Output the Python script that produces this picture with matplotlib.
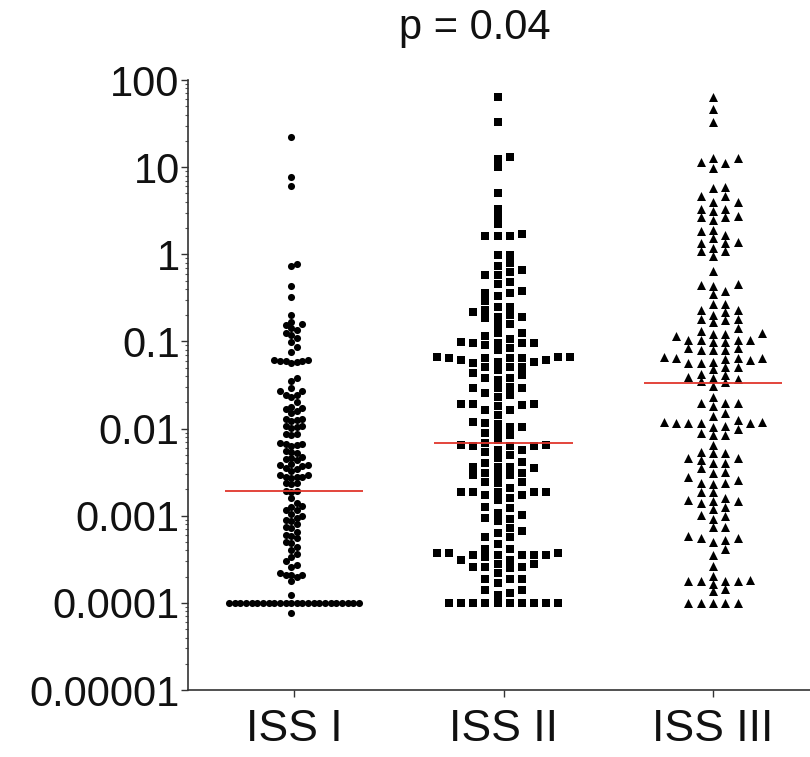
import numpy as np
import matplotlib
matplotlib.use("Agg")
import matplotlib.pyplot as plt
from matplotlib.ticker import LogLocator, FixedLocator, NullFormatter

categories = ["ISS I", "ISS II", "ISS III"]
title_text = "p = 0.04"
ytick_values = [1e-5, 1e-4, 1e-3, 1e-2, 1e-1, 1, 10, 100]
ytick_labels = ["0.00001", "0.0001", "0.001", "0.01", "0.1", "1", "10", "100"]
medians = [0.0019, 0.0068, 0.033]

iss1 = [22, 7.7, 6.1, 0.77, 0.74, 0.43, 0.325, 0.20, 0.169, 0.159, 0.155, 0.142,
        0.137, 0.124, 0.120, 0.109, 0.0998, 0.0874, 0.0766,
        0.062, 0.061, 0.060, 0.060, 0.059, 0.058, 0.057,
        0.0379, 0.0347, 0.029, 0.0268, 0.0268, 0.0244,
        0.0240, 0.0232, 0.0204, 0.0178, 0.0172, 0.0166, 0.0158, 0.0152,
        0.0130, 0.0126, 0.0123, 0.0128, 0.0107, 0.0104, 0.0101, 0.0106,
        0.0086, 0.0084, 0.0087, 0.0067, 0.0066, 0.0063, 0.0065, 0.0068,
        0.0055, 0.0054, 0.0052, 0.0046, 0.0044, 0.0047, 0.0045,
        0.0038, 0.0037, 0.0039, 0.0038, 0.0034, 0.0033, 0.0035,
        0.0028, 0.0029, 0.0027, 0.0028, 0.0029, 0.0028, 0.0024, 0.0023, 0.0024,
        0.0019, 0.0019, 0.00188, 0.0016,
        0.0014, 0.0013, 0.00125, 0.00117, 0.00115, 0.00105, 0.001, 0.00095,
        0.0009, 0.00088, 0.0008, 0.00074, 0.00072, 0.00065, 0.0006, 0.00058,
        0.00055, 0.0005, 0.00048, 0.00044, 0.0004, 0.00036, 0.00034, 0.0003,
        0.00027, 0.00026, 0.00022, 0.00021, 0.00021, 0.0002, 0.00021, 0.00018,
        0.000123,
        0.0001, 0.0001, 0.0001, 0.0001, 0.0001, 0.0001, 0.0001, 0.0001,
        0.0001, 0.0001, 0.0001, 0.0001, 0.0001, 0.0001, 0.0001, 0.0001,
        0.0001, 0.0001, 0.0001, 0.0001, 0.0001, 0.0001, 0.0001, 0.0001,
        0.000077]

iss2 = [64, 33, 13, 12.5, 10, 5.0, 3.3, 2.7, 2.2, 1.7, 1.6, 1.6, 1.6, 0.99, 0.97,
        0.067, 0.057,
        0.097, 0.067, 0.019,
        0.22, 0.126, 0.097, 0.064, 0.029, 0.019,
        0.625, 0.48, 0.36, 0.25, 0.20, 0.16, 0.0955, 0.0615, 0.0515, 0.043, 0.038,
        0.029, 0.0233, 0.0187, 0.0144, 0.0105,
        0.66, 0.46, 0.33, 0.25, 0.19, 0.114, 0.091, 0.064, 0.0515, 0.041, 0.0255,
        0.0164, 0.0113,
        0.74, 0.58, 0.38, 0.19, 0.155, 0.124, 0.0955, 0.064, 0.0515, 0.038, 0.030,
        0.0244, 0.0182, 0.012, 0.0092,
        0.79, 0.58, 0.36, 0.29, 0.23, 0.185, 0.084, 0.064, 0.047, 0.036, 0.029,
        0.0164, 0.0105, 0.0085,
        0.0998, 0.0588, 0.0115, 0.0089,
        0.106, 0.0615, 0.019,
        0.079, 0.0588,
        0.067,
        0.0050, 0.00366, 0.00294, 0.00173, 0.00086, 0.00066, 0.00037, 0.00031,
        0.00025, 0.000187, 0.0001,
        0.0065, 0.0054, 0.00457, 0.0040, 0.00307, 0.00189, 0.00152, 0.00102,
        0.00057, 0.00035, 0.00026, 0.000187, 0.000141, 0.0001,
        0.0074, 0.0065, 0.0057, 0.00418, 0.0035, 0.00294, 0.00246, 0.00207,
        0.00159, 0.00125, 0.00107, 0.00091, 0.00072, 0.00057, 0.00034, 0.00026,
        0.000187, 0.000141, 0.0001,
        0.0057, 0.00366, 0.00294, 0.00236, 0.00173, 0.00122, 0.00094, 0.00063,
        0.00042, 0.00035, 0.00031, 0.00026, 0.00022, 0.000168, 0.000123, 0.0001,
        0.0068, 0.00307, 0.00189, 0.00037, 0.00028, 0.0001,
        0.0063, 0.00189, 0.00047, 0.00035, 0.0001,
        0.00035, 0.0001,
        0.0063, 0.00366, 0.00246, 0.00189, 0.00037, 0.00028, 0.0001,
        0.0063, 0.00189, 0.00035, 0.000131, 0.0001,
        0.00042, 0.0001]

iss3 = [64, 46, 33, 12.8, 12.6, 11.5, 11.3, 9.8, 5.85, 5.75, 4.7, 4.7, 4.0, 4.0,
        3.3, 3.3, 3.16, 2.72, 2.65, 2.49, 2.65, 1.91, 1.83, 1.67, 1.53, 1.38,
        1.34, 1.18, 1.34, 1.08, 0.96, 1.08, 0.635,
        0.435, 0.384, 0.446, 0.458, 0.352,
        0.27, 0.27,
        0.22, 0.231, 0.231,
        0.202,
        0.174, 0.18, 0.18, 0.165,
        0.142, 0.132,
        0.122, 0.124, 0.122, 0.116, 0.104, 0.0998, 0.0998, 0.104, 0.104, 0.104,
        0.0787, 0.0838, 0.0787, 0.0838, 0.080,
        0.0573, 0.064, 0.0627, 0.0588, 0.067, 0.064, 0.0573, 0.0615, 0.064,
        0.048, 0.0515, 0.0515,
        0.0389, 0.0369, 0.0414, 0.0379, 0.0425,
        0.0347, 0.0338, 0.0309,
        0.0229, 0.0196, 0.0182, 0.0196, 0.0196,
        0.0150, 0.0140,
        0.0115, 0.0120, 0.0115, 0.0126, 0.0107, 0.0115, 0.0120, 0.0115,
        0.0089, 0.0105, 0.0085, 0.0099, 0.0085,
        0.0065,
        0.00457, 0.00545, 0.00437, 0.0035, 0.00521, 0.0040, 0.00521, 0.00407, 0.00465,
        0.00307, 0.0024, 0.00321, 0.00232, 0.00277, 0.00258, 0.0024,
        0.00189, 0.00152, 0.00189, 0.00139, 0.00159, 0.00127, 0.00102, 0.00148,
        0.00119, 0.00092, 0.00074, 0.00148,
        0.001, 0.00074,
        0.00050, 0.00055, 0.00058, 0.00055, 0.00053,
        0.00041, 0.00035, 0.000266,
        0.00018, 0.00018, 0.00018, 0.00018, 0.000135, 0.000183, 0.000143,
        0.000204, 0.000165,
        0.0001, 0.0001, 0.0001, 0.0001, 0.0001]


def column_swarm(values, dx, dy, half):
    """Place points in vertical columns (Prism-like scatter), returns x offsets."""
    logv = np.log10(np.asarray(values, dtype=float))
    order = np.argsort(logv, kind="stable")
    if half:
        cands = [s * (k + 0.5) for k in range(80) for s in (-1, 1)]
    else:
        cands = [0.0] + [s * k for k in range(1, 80) for s in (1, -1)]
    cols = {}
    offs = np.zeros(len(logv))
    for i in order:
        for c in cands:
            placed = cols.setdefault(c, [])
            if all(abs(logv[i] - p) >= dy for p in placed):
                placed.append(logv[i])
                offs[i] = c * dx
                break
    return offs


fig = plt.figure(figsize=(8.10, 7.57), dpi=100)
ax = fig.add_axes([188 / 810, 67 / 757, 1 - 188 / 810, 610 / 757])
ax.set_yscale("log")
ax.set_ylim(1e-5, 100)
ax.set_xlim(-0.506, 2.463)

groups = [iss1, iss2, iss3]
styles = [dict(marker="o", s=26, dx=0.027, dy=0.066, half=True),
          dict(marker="s", s=33, dx=0.0573, dy=0.085, half=True),
          dict(marker="^", s=42, dx=0.0588, dy=0.085, half=False)]

for i, (vals, st) in enumerate(zip(groups, styles)):
    offs = column_swarm(vals, st["dx"], st["dy"], st["half"])
    ax.scatter(i + offs, vals, marker=st["marker"], s=st["s"], c="black",
               linewidths=0, zorder=2)
    ax.hlines(medians[i], i - 0.33, i + 0.33, color="#e0362c", lw=1.3, zorder=3)

for side in ("top", "right"):
    ax.spines[side].set_visible(False)
for side in ("left", "bottom"):
    ax.spines[side].set_linewidth(1.2)
    ax.spines[side].set_color("#333333")

ax.yaxis.set_major_locator(FixedLocator(ytick_values))
ax.set_yticklabels(ytick_labels, fontsize=30, color="#111111",
                   family=["Liberation Sans", "DejaVu Sans"])
ax.yaxis.set_minor_locator(LogLocator(base=10, subs=np.arange(2, 10), numticks=100))
ax.yaxis.set_minor_formatter(NullFormatter())
ax.tick_params(axis="y", which="major", length=5, width=1.0, color="#333333", pad=1)
ax.tick_params(axis="y", which="minor", length=2.5, width=0.8, color="#555555")

ax.set_xticks(range(len(categories)))
ax.set_xticklabels(categories, fontsize=32, color="#111111",
                   family=["Liberation Sans", "DejaVu Sans"])
ax.tick_params(axis="x", length=5, width=1.0, color="#333333", pad=9)

fig.text(475 / 810, 1 - 28 / 757, title_text, fontsize=30, ha="center", va="center",
         color="#111111", family=["Liberation Sans", "DejaVu Sans"])

fig.savefig("out.png", dpi=100)
